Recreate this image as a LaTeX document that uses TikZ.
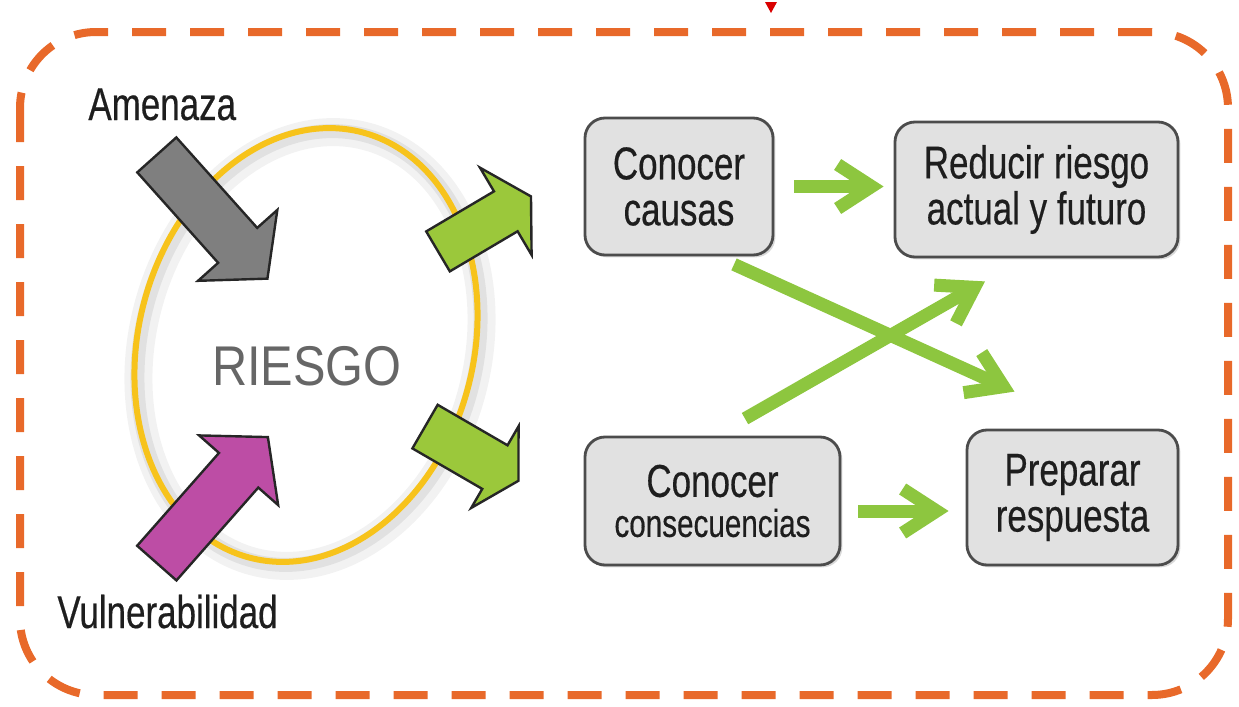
\documentclass[tikz,border=0pt]{standalone}
\usepackage{fontspec}
\setmainfont{Liberation Sans}
\newfontfamily\narrowfont[FakeStretch=0.76,FakeBold=0.4]{Liberation Sans}
\newfontfamily\riesgofont[FakeStretch=0.87]{Liberation Sans}
\usepackage{tikz}
\usetikzlibrary{arrows.meta,shapes.arrows,shapes.geometric,shadows}

\definecolor{naranja}{HTML}{E8692A}
\definecolor{amarillo}{HTML}{F7C31B}
\definecolor{verde}{HTML}{8DC63F}
\definecolor{verdebloque}{HTML}{9BC83B}
\definecolor{grisbloque}{HTML}{7F7F7F}
\definecolor{magenta2}{HTML}{BD4DA5}
\definecolor{cajagris}{HTML}{E1E1E1}
\definecolor{texto}{HTML}{1E1E1E}

\begin{document}
\begin{tikzpicture}[x=0.5pt,y=-0.5pt,>={Straight Barb[length=17pt,width=22pt]},
    caja/.style={draw=black!70,line width=1.4pt,fill=cajagris,rounded corners=10pt,
      align=center,inner sep=0pt,text=texto,font=\narrowfont\fontsize{23}{23}\selectfont,
      drop shadow={shadow xshift=1.2pt,shadow yshift=-1.2pt,opacity=.3}},
    bloque/.style={single arrow,draw=black!85,line width=1.2pt,inner xsep=0pt,anchor=tail,
      single arrow tip angle=100},
    flecha/.style={->,line width=6.5pt,draw=verde},
    etiqueta/.style={font=\narrowfont\fontsize{23}{23}\selectfont,text=texto,inner sep=0pt}]
  \useasboundingbox (0,0) rectangle (1239,707);

  % marco
  \draw[naranja,line width=4pt,dash pattern=on 17pt off 12pt,rounded corners=38pt]
    (20,32) rectangle (1228,695);
  \fill[red!85!black] (765,2) -- (777,2) -- (771,13) -- cycle;

  % riesgo
  \node[ellipse,draw=black,opacity=.05,line width=14pt,minimum width=167.5pt,
    minimum height=220pt,rotate=-15] (sombra1) at (310,349) {};
  \node[ellipse,draw=black,opacity=.07,line width=7pt,minimum width=167.5pt,
    minimum height=220pt,rotate=-15] (sombra2) at (309,348) {};
  \node[ellipse,draw=amarillo,line width=3pt,minimum width=167.5pt,
    minimum height=220pt,rotate=-15] (elipse) at (306,345) {};
  \node[font=\riesgofont\fontsize{28}{28}\selectfont,text=black!60,anchor=base,
    inner sep=0pt] (riesgo) at (307,385) {RIESGO};

  \node[bloque,fill=grisbloque,rotate=-48.2,minimum height=83pt,inner ysep=12.5pt,
    single arrow head extend=13.5pt] (flechaamenaza) at (156,154) {};
  \node[bloque,fill=magenta2,rotate=48.6,minimum height=84pt,inner ysep=12.5pt,
    single arrow head extend=13.25pt] (flechavulner) at (156,564) {};
  \node[bloque,fill=verdebloque,rotate=30.6,minimum height=54pt,inner ysep=11pt,
    single arrow head extend=13.75pt,single arrow tip angle=120] (salida1) at (437,252) {};
  \node[bloque,fill=verdebloque,rotate=-30.1,minimum height=54pt,inner ysep=12pt,
    single arrow head extend=11pt,single arrow tip angle=120] (salida2) at (424,426) {};

  \node[etiqueta,anchor=base west] (amenaza) at (88,120) {Amenaza};
  \node[etiqueta,anchor=base west] (vulnerabilidad) at (57,628) {Vulnerabilidad};

  % acciones
  \node[caja,minimum width=94pt,minimum height=68.5pt] (causas) at (679,186.5)
    {Conocer\\causas};
  \node[caja,minimum width=141.5pt,minimum height=67.5pt] (reducir) at (1036.5,189.5)
    {Reducir riesgo\\actual y futuro};
  \node[caja,minimum width=127.5pt,minimum height=64pt] (consecuencias) at (712.5,501)
    {Conocer\\[-3pt]{\fontsize{19.5}{19.5}\selectfont consecuencias}};
  \node[caja,minimum width=105.5pt,minimum height=67.5pt] (preparar) at (1072.5,497.5)
    {Preparar\\respuesta};

  \coordinate (c1) at (causas.east);
  \coordinate (c2) at ([yshift=-5pt]consecuencias.east);
  \draw[flecha,shorten <=10pt,shorten >=5pt] (c1) -- (c1 -| reducir.west);
  \draw[flecha,shorten <=8.5pt,shorten >=8.5pt] (c2) -- (c2 -| preparar.west);
  \draw[flecha] ([xshift=27.5pt,yshift=-4pt]causas.south)
    -- ([xshift=-29pt,yshift=18.5pt]preparar.north);
  \draw[flecha] ([xshift=16.25pt,yshift=8.5pt]consecuencias.north)
    -- ([xshift=-25.75pt,yshift=-11.5pt]reducir.south);
\end{tikzpicture}
\end{document}
